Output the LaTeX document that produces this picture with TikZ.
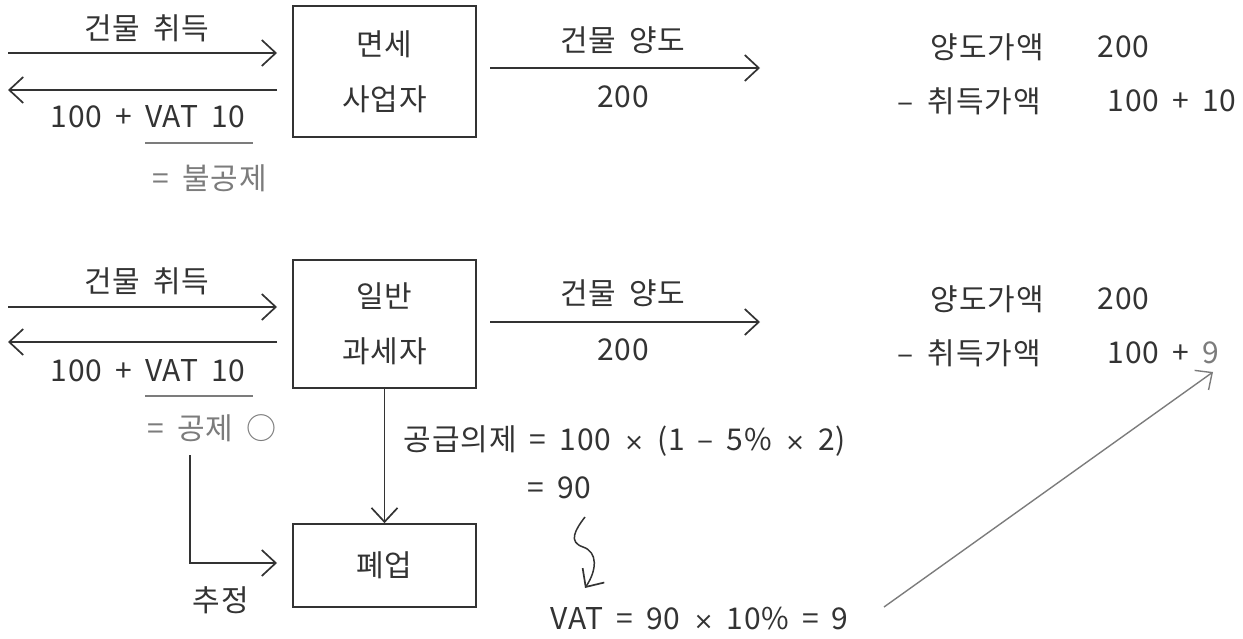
\documentclass[tikz,border=0pt]{standalone}
\usepackage{fontspec}
\setmainfont[WordSpace=1.7,LetterSpace=3]{Noto Sans CJK KR}
\newfontfamily\dv{DejaVu Sans}
\newcommand{\tms}{{\dv\fontsize{24}{30}\selectfont ×}}
\usetikzlibrary{arrows.meta}
\definecolor{ink}{HTML}{333333}
\definecolor{soft}{HTML}{7C7C7C}
\begin{document}
\begin{tikzpicture}[x=1pt,y=-1pt,
  line width=1.7pt,
  every node/.style={font=\fontsize{30}{34}\selectfont, text=ink, inner sep=0pt},
  arr/.style={draw=ink, -{Straight Barb[length=14pt,width=26pt,line width=1.7pt]}},
  garr/.style={draw=soft, line width=1.4pt, -{Straight Barb[length=13pt,width=24pt,line width=1.4pt]}},
  boxn/.style={draw=ink, line width=1.7pt, minimum width=183pt, align=center,
     font=\fontsize{30}{55}\selectfont},
  gr/.style={text=soft},
  uline/.style={draw=soft, line width=1.3pt}]
\useasboundingbox (0,0) rectangle (1243,639);

% ---------- top section ----------
\node[boxn, minimum height=131pt] (b1) at (384.5,71.5) {면세\\사업자};
\coordinate (a1s) at (8,53);  \coordinate (a1e) at (277,53);
\coordinate (a2s) at (277,90); \coordinate (a2e) at (8,90);
\draw[arr] (a1s) -- (a1e);
\draw[arr] (a2s) -- (a2e);
\node (t1) at (147,28) {건물 취득};
\node (t2) at (148,117) {100 + VAT 10};
\coordinate (u1s) at (145,143); \coordinate (u1e) at (253,143);
\draw[uline] (u1s) -- (u1e);
\node[gr] (t3) at (210,178) {= 불공제};
\coordinate (a3s) at (490,68); \coordinate (a3e) at (760,68);
\draw[arr] (a3s) -- (a3e);
\node (t4) at (623,40) {건물 양도};
\node (t5) at (623,97) {200};
\node[anchor=west] (r1) at (930,47) {양도가액};
\node[anchor=west] (r2) at (1097,47) {200};
\node[anchor=west] (r3) at (897,101) {–\hspace{14pt}취득가액};
\node[anchor=west] (r4) at (1107,101) {100 + 10};

% ---------- bottom section ----------
\node[boxn, minimum height=128pt] (b2) at (384.5,324) {일반\\과세자};
\coordinate (c1s) at (8,307);  \coordinate (c1e) at (277,307);
\coordinate (c2s) at (277,342); \coordinate (c2e) at (8,342);
\draw[arr] (c1s) -- (c1e);
\draw[arr] (c2s) -- (c2e);
\node (s1) at (147,281) {건물 취득};
\node (s2) at (148,371) {100 + VAT 10};
\coordinate (u2s) at (145,396); \coordinate (u2e) at (253,396);
\draw[uline] (u2s) -- (u2e);
\node[gr] (s3) at (212,428) {= 공제 ○};
\coordinate (c3s) at (490,322); \coordinate (c3e) at (760,322);
\draw[arr] (c3s) -- (c3e);
\node (s4) at (623,293) {건물 양도};
\node (s5) at (623,350) {200};
\node[anchor=west] (q1) at (930,299) {양도가액};
\node[anchor=west] (q2) at (1097,299) {200};
\node[anchor=west] (q3) at (897,353) {–\hspace{14pt}취득가액};
\node[anchor=west] (q4) at (1107,353) {100 + \textcolor{soft}{9}};

\node[boxn, minimum height=83pt] (b3) at (384.5,565.5) {폐업};
\draw[arr] (b2.south) -- (b3.north);

\coordinate (l1) at (190,455);
\coordinate (l2) at (277,563);
\draw[arr] (l1) |- (l2);
\node (s6) at (221,600) {추정};

\node[anchor=west] (f1) at (403,441) {공급의제 = 100 \tms{} (1 – 5\% \tms{} 2)};
\node[anchor=west] (f2) at (527,488) {= 90};
\node[anchor=west] (f3) at (550,619) {VAT = 90 \tms{} 10\% = 9};

\coordinate (w1) at (585,517);
\coordinate (w2) at (585,588);
\draw[arr, line width=1.5pt] (w1) .. controls (575,530) and (568,542) .. (583,547)
           .. controls (598,552) and (597,570) .. (w2);

\coordinate (g1) at (884,607);
\coordinate (g2) at (1213,372);
\draw[garr] (g1) -- (g2);
\end{tikzpicture}
\end{document}
